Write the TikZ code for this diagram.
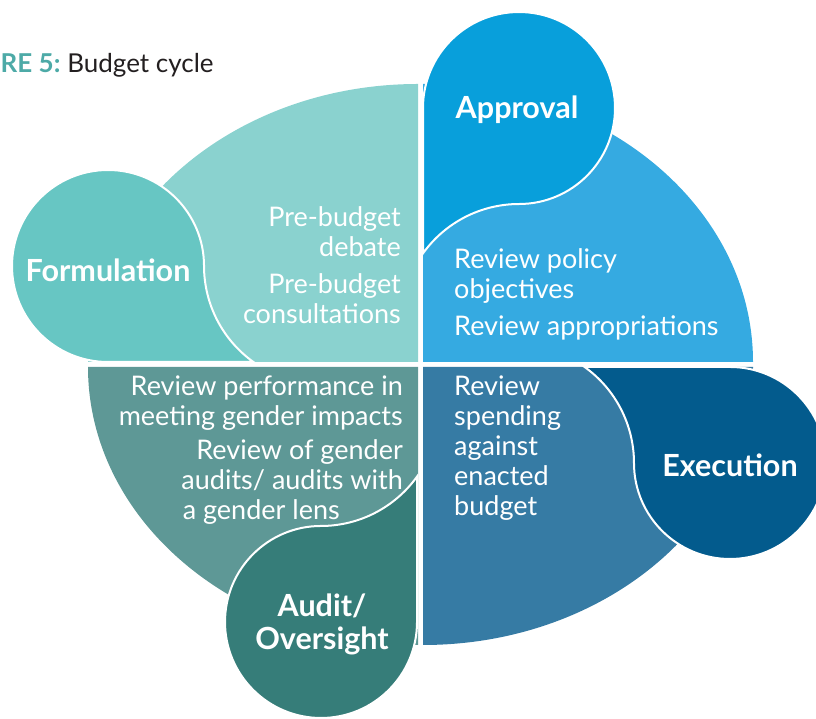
\documentclass[tikz,border=0pt]{standalone}
\usepackage{fontspec}
\setmainfont{Lato}
\usetikzlibrary{positioning}

\definecolor{formcirc}{HTML}{67C6C3}
\definecolor{formarea}{HTML}{8AD2CF}
\definecolor{apprcirc}{HTML}{089FDB}
\definecolor{apprarea}{HTML}{35AAE1}
\definecolor{execcirc}{HTML}{035B8D}
\definecolor{execarea}{HTML}{367BA4}
\definecolor{auditcirc}{HTML}{367D79}
\definecolor{auditarea}{HTML}{5E9896}
\definecolor{titleteal}{HTML}{4DAAA7}
\definecolor{titletext}{HTML}{231F20}

% drop shaped phase: colour, centre, rotation
\newcommand{\phasedrop}[3]{%
  \begin{scope}[shift={#2}, rotate=#3]
    \filldraw[fill=#1, draw=white, line width=2pt] (0,-96) -- (145.4,-96)
      arc[start angle=234.44, end angle=180, radius=118]
      arc[start angle=0, end angle=270, radius=96] -- cycle;
  \end{scope}}

\begin{document}
\begin{tikzpicture}[
    x=1pt, y=1pt,
    area/.style={draw=none},
    phase/.style={text=white, align=center, inner sep=0pt, font=\fontsize{30.5}{33}\selectfont\bfseries},
    steptext/.style={text=white, inner sep=0pt, font=\fontsize{27}{30}\selectfont},
    ]
    \useasboundingbox (0,0) rectangle (816,719);

    %Areas
    \fill[area, formarea]  (418,357) -- (418,635) arc[start angle=90, end angle=180, x radius=330, y radius=278] -- cycle;
    \fill[area, apprarea]  (423,357) -- (753,357) arc[start angle=0, end angle=90, x radius=330, y radius=278] -- cycle;
    \fill[area, execarea]  (423,352) -- (423,74) arc[start angle=270, end angle=360, x radius=330, y radius=278] -- cycle;
    \fill[area, auditarea] (418,352) -- (88,352) arc[start angle=180, end angle=270, x radius=330, y radius=278] -- cycle;

    %Drops
    \phasedrop{formcirc}{(108,453)}{0}
    \phasedrop{apprcirc}{(519,611)}{-90}
    \phasedrop{execcirc}{(730,256)}{180}
    \phasedrop{auditcirc}{(321,97)}{90}

    %Title
    \node[anchor=base west, inner sep=0pt, text=titletext, font=\fontsize{26}{30}\selectfont] (title) at (0.5,646)
        {{\bfseries\color{titleteal}RE 5:}\hspace{-2pt} Budget cycle};

    %Phases
    \node[phase] (formulation) at (108,449) {Formulation};
    \node[phase] (approval)    at (517,609) {Approval};
    \node[phase] (execution)   at (730,254) {Execution};
    \node[phase] (audit)       at (322,95)  {Audit/\\Oversight};

    %Steps
    \node[steptext, align=right, anchor=north east] (formsteps) at (401,513)
        {Pre-budget\\debate\\[7pt]Pre-budget\\consultations};
    \node[steptext, align=left, anchor=north west] (apprsteps) at (454,471)
        {Review policy\\objectives\\[7pt]Review appropriations};
    \node[steptext, align=left, anchor=north west] (execsteps) at (454,343)
        {Review\\spending\\against\\enacted\\budget};
    \node[steptext, align=right, anchor=north east] (auditsteps) at (403,343)
        {Review performance in\\meeting gender impacts\\[4pt]Review of gender\\audits/ audits with\\a gender lens\hspace*{63pt}};

\end{tikzpicture}
\end{document}
